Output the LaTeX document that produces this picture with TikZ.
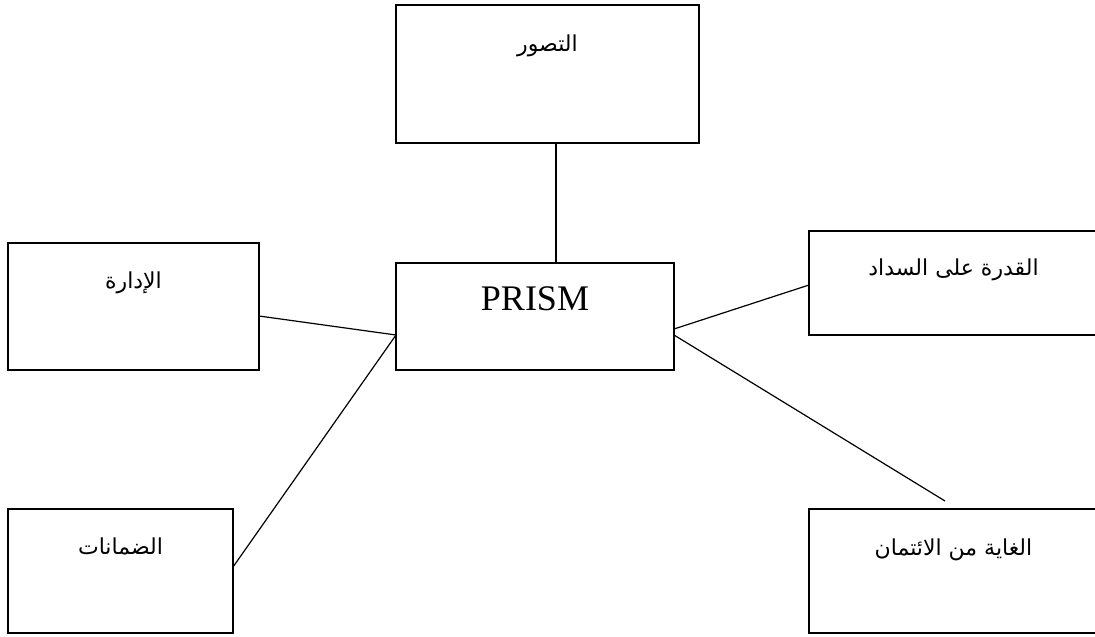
\documentclass[tikz,border=0pt]{standalone}
\usepackage{fontspec}
\setmainfont{Liberation Serif}
\newfontfamily\arabicfont[Script=Arabic]{DejaVu Sans}
\TeXXeTstate=1
\begin{document}
\begin{tikzpicture}[x=1pt,y=-1pt,
  boxnode/.style={draw=black,line width=1.8pt,rectangle,inner sep=0pt,outer sep=0pt},
  arlabel/.style={font=\arabicfont\fontsize{22}{26}\selectfont,inner sep=0pt},
  conn/.style={line width=1.2pt,black}]
\useasboundingbox (0,0) rectangle (1095,637);
\node[boxnode,minimum width=303pt,minimum height=138pt] (top) at (547.5,74) {};
\node[boxnode,minimum width=278pt,minimum height=107pt] (prism) at (535,316.5) {};
\node[boxnode,minimum width=251pt,minimum height=127pt] (idara) at (133.5,306.5) {};
\node[boxnode,minimum width=289pt,minimum height=104pt] (qudra) at (953.5,283) {};
\node[boxnode,minimum width=225pt,minimum height=124pt] (daman) at (120.5,571) {};
\node[boxnode,minimum width=289pt,minimum height=124pt] (ghaya) at (953.5,571) {};
\node[arlabel] (ttop) at ([yshift=-41pt]top.north) {\beginR التصور\endR};
\node[font=\fontsize{36}{40}\selectfont,inner sep=0pt,anchor=base] (tprism) at ([yshift=-47pt]prism.north) {PRISM};
\node[arlabel] (tidara) at ([yshift=-40pt]idara.north) {\beginR الإدارة\endR};
\node[arlabel] (tqudra) at ([yshift=-39pt]qudra.north) {\beginR القدرة على السداد\endR};
\node[arlabel] (tdaman) at ([yshift=-37pt]daman.north) {\beginR الضمانات\endR};
\node[arlabel] (tghaya) at ([yshift=-41pt]ghaya.north) {\beginR الغاية من الائتمان\endR};
\coordinate (free) at (945,501);
\draw[conn] ([xshift=8.5pt]top.south) -- ([xshift=8.5pt]top.south |- prism.north);
\draw[conn] ([yshift=-9.5pt]idara.east) -- ([yshift=-18.5pt]prism.west);
\draw[conn] ([yshift=4pt]daman.east) -- ([yshift=-18.5pt]prism.west);
\draw[conn] ([yshift=-12.5pt]prism.east) -- ([yshift=-2pt]qudra.west);
\draw[conn] ([yshift=-18.5pt]prism.east) -- (free);
\end{tikzpicture}
\end{document}
